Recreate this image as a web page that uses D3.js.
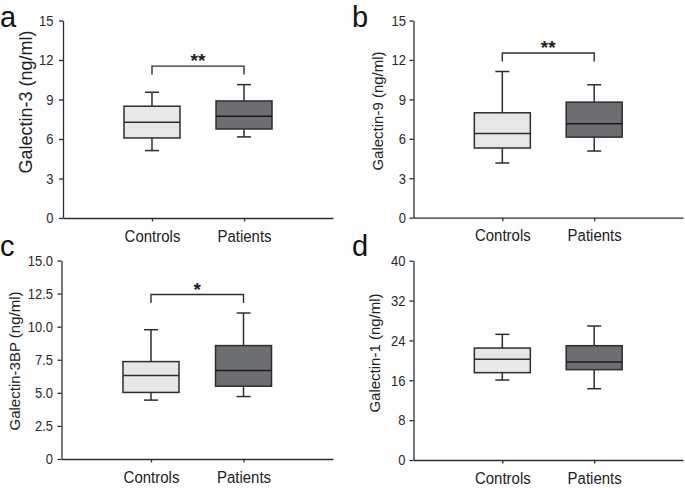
<!DOCTYPE html>
<html><head><meta charset="utf-8">
<script src="https://cdn.jsdelivr.net/npm/d3@7"></script>
<style>
body{margin:0;background:#fff}
text{font-family:"Liberation Sans",Arial,Helvetica,sans-serif;}
</style>
</head><body>
<svg id="chart" width="685" height="488"></svg>
<script>
// ---------- DATA ----------
const categories = ["Controls", "Patients"];
const panelLetters = ["a", "b", "c", "d"];
const yLabels = ["Galectin-3 (ng/ml)", "Galectin-9 (ng/ml)", "Galectin-3BP (ng/ml)", "Galectin-1 (ng/ml)"];
const yDomainMax = [15, 15, 15, 40];
const yTickValues = [
  [0, 3, 6, 9, 12, 15],
  [0, 3, 6, 9, 12, 15],
  [0, 2.5, 5, 7.5, 10, 12.5, 15],
  [0, 8, 16, 24, 32, 40]
];
const yTickLabels = [
  ["0", "3", "6", "9", "12", "15"],
  ["0", "3", "6", "9", "12", "15"],
  ["0", "2.5", "5.0", "7.5", "10.0", "12.5", "15.0"],
  ["0", "8", "16", "24", "32", "40"]
];
// box stats: [min, Q1, median, Q3, max]
const galectin3Controls  = [5.12, 6.08, 7.27, 8.49, 9.55];
const galectin3Patients  = [6.16, 6.76, 7.73, 8.89, 10.13];
const galectin9Controls  = [4.16, 5.30, 6.41, 7.98, 11.12];
const galectin9Patients  = [5.07, 6.13, 7.14, 8.79, 10.11];
const galectin3BPControls = [4.45, 5.03, 6.31, 7.36, 9.77];
const galectin3BPPatients = [4.72, 5.50, 6.68, 8.57, 11.03];
const galectin1Controls  = [16.05, 17.53, 20.20, 22.47, 25.22];
const galectin1Patients  = [14.31, 18.13, 19.67, 22.94, 26.89];
const significance = ["**", "**", "*", ""];

const panelData = [
  [galectin3Controls, galectin3Patients],
  [galectin9Controls, galectin9Patients],
  [galectin3BPControls, galectin3BPPatients],
  [galectin1Controls, galectin1Patients]
];

// ---------- LAYOUT / STYLE ----------
const layout = [
  {x0: 63,    x1: 333, yb: 218,   yt: 20.5,  pad: 5.5, lx: 26,  ly: 102, lfs: 18, Lx: 0,   Ly: 27},
  {x0: 413.5, x1: 683, yb: 217.7, yt: 20.5,  pad: 3.5, lx: 377, ly: 111, lfs: 15, Lx: 352, Ly: 27},
  {x0: 61.5,  x1: 333, yb: 459,   yt: 260.5, pad: 4.5, lx: 14,  ly: 361, lfs: 15, Lx: 0,   Ly: 256},
  {x0: 413.5, x1: 683, yb: 460,   yt: 260.7, pad: 4,   lx: 374, ly: 353, lfs: 15, Lx: 352, Ly: 256}
];
const fills = ["#e6e7e8", "#6d6e71"];
const ink = "#2e2e2e";
const boxW = 56, capW = 14;
const stretch = 1.15;

const svg = d3.select("#chart");

layout.forEach((L, i) => {
  const g = svg.append("g");
  const y = d3.scaleLinear().domain([0, yDomainMax[i]]).range([L.yb, L.yt]);
  const x = d3.scalePoint().domain(categories).range([L.x0, L.x1]).padding(0.967);

  // y axis
  const yAxis = d3.axisLeft(y).tickValues(yTickValues[i])
    .tickFormat((d, k) => yTickLabels[i][k])
    .tickSize(4).tickSizeOuter(0).tickPadding(L.pad);
  const ya = g.append("g").attr("transform", `translate(${L.x0},0)`).call(yAxis);
  ya.selectAll("path,line").attr("stroke", ink).attr("stroke-width", 1.3);
  ya.selectAll("text").attr("font-size", 13).attr("fill", "#2a2a2a")
    .attr("font-family", '"Liberation Sans",Arial,sans-serif')
    .attr("transform", `scale(1,${stretch})`);

  // x axis
  const xAxis = d3.axisBottom(x).tickSize(3.5).tickSizeOuter(0).tickPadding(6.5);
  const xa = g.append("g").attr("transform", `translate(0,${L.yb})`).call(xAxis);
  xa.selectAll("path,line").attr("stroke", ink).attr("stroke-width", 1.3);
  xa.selectAll("text").attr("font-size", 15).attr("fill", "#222")
    .attr("font-family", '"Liberation Sans",Arial,sans-serif')
    .attr("transform", `scale(1,${stretch})`);

  // boxes
  panelData[i].forEach((s, k) => {
    const cx = x(categories[k]);
    const [mn, q1, md, q3, mx] = s;
    const bg = g.append("g").attr("stroke", ink).attr("stroke-width", 1.5);
    bg.append("line").attr("x1", cx).attr("x2", cx).attr("y1", y(q3)).attr("y2", y(mx));
    bg.append("line").attr("x1", cx).attr("x2", cx).attr("y1", y(q1)).attr("y2", y(mn));
    bg.append("line").attr("x1", cx - capW/2).attr("x2", cx + capW/2).attr("y1", y(mx)).attr("y2", y(mx));
    bg.append("line").attr("x1", cx - capW/2).attr("x2", cx + capW/2).attr("y1", y(mn)).attr("y2", y(mn));
    bg.append("rect").attr("x", cx - boxW/2).attr("width", boxW)
      .attr("y", y(q3)).attr("height", y(q1) - y(q3)).attr("fill", fills[k]);
    bg.append("line").attr("x1", cx - boxW/2).attr("x2", cx + boxW/2)
      .attr("y1", y(md)).attr("y2", y(md)).attr("stroke", k === 1 ? "#1a1a1a" : ink);
  });

  // significance bracket
  if (significance[i]) {
    const top = d3.min(panelData[i], s => y(s[4]));
    const by = top - 18.5;
    const xa0 = x(categories[0]), xa1 = x(categories[1]);
    g.append("path")
      .attr("d", `M${xa0},${by + 8.5}V${by}H${xa1}V${by + 8.5}`)
      .attr("fill", "none").attr("stroke", ink).attr("stroke-width", 1.4);
    g.append("text").attr("x", (xa0 + xa1) / 2).attr("y", by + 1)
      .attr("text-anchor", "middle").attr("font-size", 19).attr("font-weight", "bold")
      .attr("fill", "#222").text(significance[i]);
  }

  // y label
  g.append("text")
    .attr("transform", `translate(${L.lx},${L.ly}) rotate(-90)`)
    .attr("text-anchor", "middle").attr("dominant-baseline", "central")
    .attr("font-size", L.lfs).attr("fill", "#222").text(yLabels[i]);

  // panel letter
  g.append("text").attr("x", L.Lx).attr("y", L.Ly)
    .attr("font-size", 29).attr("fill", "#111").text(panelLetters[i]);
});
</script>
</body></html>
